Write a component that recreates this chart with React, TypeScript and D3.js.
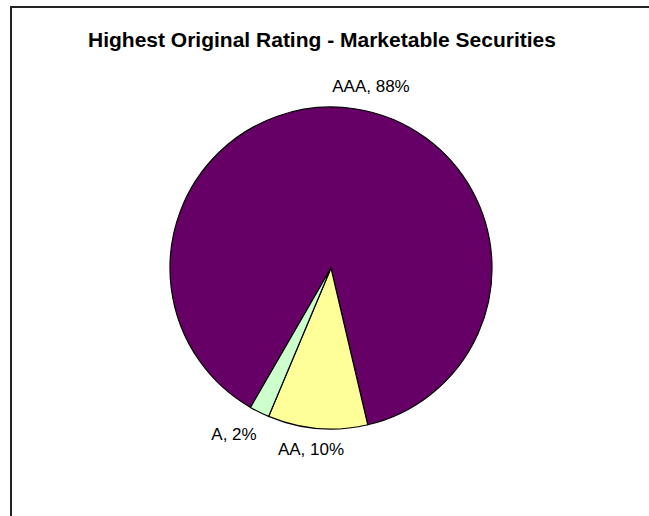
import React from "react";
import * as d3 from "d3";

const ratings = ["AAA", "AA", "A"];
const shares = [88, 10, 2];
const sliceColors = ["#660066", "#FFFF99", "#CCFFCC"];
const chartTitle = "Highest Original Rating - Marketable Securities";

const W = 649;
const H = 516;
const cx = 331;
const cy = 268;
const radius = 161;
const startDeg = 210;

// where each data label sits, keyed by rating
const labelAnchors: Record<string, [number, number]> = {
  AAA: [371, 92],
  AA: [311, 455],
  A: [234, 440],
};

export default function App() {
  const data = ratings.map((r, i) => ({ rating: r, value: shares[i], color: sliceColors[i] }));
  const pie = d3
    .pie<any>()
    .sort(null)
    .value((d) => d.value)
    .startAngle((startDeg * Math.PI) / 180)
    .endAngle(((startDeg + 360) * Math.PI) / 180);
  const arcs = pie(data);
  const arc = d3.arc<any>().innerRadius(0).outerRadius(radius);

  return (
    <svg
      width={W}
      height={H}
      style={{ position: "absolute", left: 0, top: 0, display: "block" }}
    >
      <rect x={0} y={0} width={W} height={H} fill="#fff" />
      <rect x={11} y={7} width={W + 10} height={H + 10} fill="none" stroke="#222" strokeWidth={2} />
      <text
        x={322}
        y={47}
        textAnchor="middle"
        fontFamily="Liberation Sans, Arial, sans-serif"
        fontWeight="bold"
        fontSize={21}
        fill="#000"
      >
        {chartTitle}
      </text>
      <g transform={`translate(${cx},${cy})`}>
        {arcs.map((a, i) => (
          <path key={i} d={arc(a) as string} fill={a.data.color} stroke="#000" strokeWidth={1.2} />
        ))}
      </g>
      {arcs.map((a, i) => {
        const [lx, ly] = labelAnchors[a.data.rating];
        return (
          <text
            key={i}
            x={lx}
            y={ly}
            textAnchor="middle"
            fontFamily="Liberation Sans, Arial, sans-serif"
            fontSize={17}
            fill="#000"
          >
            {`${a.data.rating}, ${a.data.value}%`}
          </text>
        );
      })}
    </svg>
  );
}
